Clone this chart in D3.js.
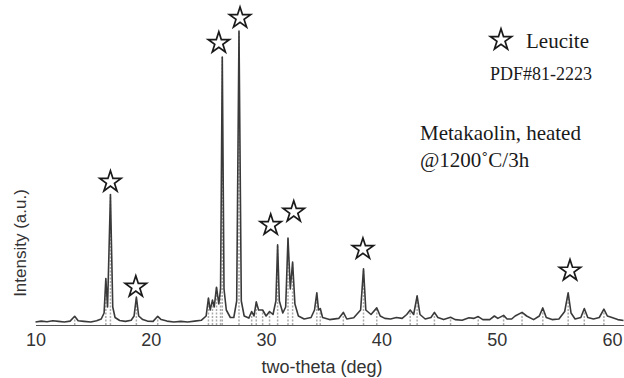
<!DOCTYPE html>
<html>
<head>
<meta charset="utf-8">
<script src="https://cdn.jsdelivr.net/npm/d3@7"></script>
<style>
  body { margin: 0; background: #fff; }
  #svg-container { width: 624px; height: 378px; }
  .tick text { font-family: "Liberation Sans", Arial, sans-serif; font-size: 18px; fill: #333; }
  .unit { font-family: "Liberation Sans", Arial, sans-serif; fill: #333; }
  .note { font-family: "Liberation Serif", "Times New Roman", serif; fill: #1a1a1a; }
</style>
</head>
<body>
<div id="svg-container"></div>
<script>
////////////////////////////////////////////////////////////////////
////////////////////////////  Data  ////////////////////////////////
// XRD pattern (2-theta in deg, intensity in a.u.)
const twoTheta = [
  10.0, 10.5, 11.0, 11.5, 12.0, 12.5, 13.0, 13.4, 13.7, 14.2, 14.8, 15.3, 15.7, 15.95,
  16.1, 16.25, 16.5, 16.7, 16.9, 17.3, 17.8, 18.3, 18.55, 18.75, 18.95, 19.3, 19.7,
  20.2, 20.6, 20.9, 21.4, 22.0, 22.6, 23.2, 23.8, 24.4, 24.8, 25.0, 25.15, 25.35, 25.5,
  25.7, 25.9, 26.05, 26.2, 26.35, 26.55, 26.9, 27.2, 27.45, 27.65, 27.85, 28.1, 28.5,
  28.75, 28.95, 29.15, 29.35, 29.7, 30.0, 30.3, 30.6, 30.85, 31.0, 31.15, 31.45, 31.7,
  31.9, 32.1, 32.3, 32.5, 32.8, 33.3, 33.9, 34.2, 34.4, 34.55, 34.7, 34.9, 35.5, 36.3,
  36.7, 37.0, 37.6, 38.2, 38.45, 38.65, 39.1, 39.6, 39.9, 40.3, 40.8, 41.3, 41.8, 42.2,
  42.5, 42.8, 43.1, 43.35, 43.8, 44.3, 44.6, 44.9, 45.4, 46.0, 46.4, 47.0, 47.6, 48.0,
  48.4, 48.8, 49.4, 49.8, 50.1, 50.6, 50.9, 51.3, 51.6, 52.2, 52.6, 53.2, 53.7, 54.0,
  54.3, 54.8, 55.4, 55.9, 56.2, 56.45, 56.8, 57.3, 57.6, 57.9, 58.4, 58.9, 59.3, 59.6,
  60.0, 60.5, 61.0
];
const intensity = [
  1.0, 1.3, 1.1, 1.4, 1.2, 1.0, 1.3, 2.9, 1.4, 1.2, 1.0, 1.4, 2.0, 4.0,
  15.5, 6.0, 43.5, 6.0, 2.5, 1.5, 1.2, 1.6, 3.0, 9.3, 3.0, 1.8, 1.3,
  1.2, 2.9, 1.8, 1.3, 1.0, 1.2, 1.0, 1.3, 1.6, 3.0, 9.0, 5.0, 8.3, 6.0,
  12.6, 7.0, 12.0, 89.3, 12.0, 5.0, 2.5, 2.5, 8.0, 98.0, 8.0, 3.0, 2.3,
  4.5, 3.0, 7.7, 5.0, 5.0, 3.0, 4.5, 3.5, 8.0, 26.7, 8.0, 4.0, 6.0,
  29.0, 12.0, 21.0, 7.0, 3.0, 2.0, 2.5, 5.0, 10.7, 5.0, 5.5, 2.5, 1.8, 2.2,
  4.2, 2.0, 2.4, 5.0, 18.7, 5.0, 3.5, 5.7, 3.0, 2.2, 2.0, 2.5, 2.2, 3.5,
  5.0, 3.5, 9.7, 3.5, 2.0, 2.5, 4.2, 2.5, 1.8, 2.6, 1.8, 1.6, 2.4, 2.2,
  2.8, 1.8, 1.8, 3.0, 2.2, 3.2, 2.0, 2.0, 3.0, 4.2, 3.0, 1.8, 3.0, 5.7,
  2.5, 1.8, 2.0, 4.5, 10.7, 4.0, 2.0, 2.5, 5.5, 2.5, 2.0, 2.5, 5.3, 3.0,
  2.5, 1.8, 1.5
];

// reference sticks (dashed) under the peaks
const stickTheta = [13.4, 16.1, 16.5, 18.75, 20.6, 25.0, 25.35, 25.7, 26.05, 26.2, 27.65, 28.75,
  29.15, 29.7, 30.3, 31.0, 31.9, 32.3, 34.4, 34.7, 36.7, 38.45, 39.6, 42.5, 43.1, 44.6,
  46.0, 48.4, 50.6, 52.2, 54.0, 56.2, 57.6, 59.3];
const stickHeight = [2.9, 15.5, 43.5, 9.3, 2.9, 9.0, 8.3, 12.6, 12.0, 89.3, 98.0, 4.5,
  7.7, 5.0, 4.5, 26.7, 29.0, 21.0, 10.7, 5.5, 4.2, 18.7, 5.7, 5.0, 9.7, 4.2,
  2.6, 2.8, 3.2, 4.2, 5.7, 10.7, 5.5, 5.3];

// leucite markers
const starTheta = [16.5, 18.7, 25.9, 27.74, 30.4, 32.4, 38.4, 56.36];
const starLevel = [47.7, 12.7, 94.0, 102.3, 33.3, 37.7, 25.3, 18.1];

const xTicks = [10, 20, 30, 40, 50, 60];

////////////////////////////////////////////////////////////////////
////////////////////////////  Init  ///////////////////////////////
const width = 624;
const height = 378;

const svg = d3.select("#svg-container").append("svg")
  .attr("width", width)
  .attr("height", height);

const xScale = d3.scaleLinear().domain([10, 61]).range([35.5, 623.5]);
const yScale = d3.scaleLinear().domain([0, 100]).range([325, 25]);

const data = twoTheta.map((t, i) => ({ t: t, v: intensity[i] }));
const sticks = stickTheta.map((t, i) => ({ t: t, v: stickHeight[i] }));
const stars = starTheta.map((t, i) => ({ t: t, v: starLevel[i] }));

// dashed reference sticks
svg.selectAll(".stick")
  .data(sticks)
  .enter()
  .append("line")
  .attr("class", "stick")
  .attr("x1", (d) => xScale(d.t))
  .attr("x2", (d) => xScale(d.t))
  .attr("y1", yScale(0))
  .attr("y2", (d) => yScale(d.v))
  .attr("stroke", "#aaa")
  .attr("stroke-width", 1.5)
  .attr("stroke-dasharray", "2,1.5");

// x axis
const xAxis = d3.axisBottom(xScale).tickValues(xTicks).tickSize(0).tickPadding(8);
svg.append("g")
  .attr("class", "x-axis")
  .attr("transform", `translate(0,${yScale(0)})`)
  .call(xAxis)
  .call((g) => g.select(".domain").attr("stroke", "#555").attr("stroke-width", 1.2));

// spectrum
const line = d3.line()
  .x((d) => xScale(d.t))
  .y((d) => yScale(d.v));

svg.append("path")
  .datum(data)
  .attr("fill", "none")
  .attr("stroke", "#3a3a3a")
  .attr("stroke-width", 1.6)
  .attr("stroke-linejoin", "round")
  .attr("d", line);

// stars
const star = d3.symbol().type(d3.symbolStar).size(140);

svg.selectAll(".star")
  .data(stars)
  .enter()
  .append("path")
  .attr("class", "star")
  .attr("d", star)
  .attr("transform", (d) => `translate(${xScale(d.t)},${yScale(d.v)})`)
  .attr("fill", "#fff")
  .attr("stroke", "#1a1a1a")
  .attr("stroke-width", 1.7);

// Units
svg.append("text")
  .attr("class", "unit")
  .attr("x", 322)
  .attr("y", 373)
  .attr("text-anchor", "middle")
  .style("font-size", "18px")
  .text("two-theta (deg)");

svg.append("text")
  .attr("class", "unit")
  .attr("transform", "translate(26,243) rotate(-90)")
  .attr("text-anchor", "middle")
  .style("font-size", "17px")
  .text("Intensity (a.u.)");

// Legend / notes
svg.append("path")
  .attr("d", star)
  .attr("transform", "translate(501,40)")
  .attr("fill", "#fff")
  .attr("stroke", "#1a1a1a")
  .attr("stroke-width", 1.7);

svg.append("text").attr("class", "note")
  .attr("x", 526).attr("y", 48)
  .style("font-size", "21px")
  .text("Leucite");

svg.append("text").attr("class", "note")
  .attr("x", 490).attr("y", 80)
  .style("font-size", "18px")
  .text("PDF#81-2223");

svg.append("text").attr("class", "note")
  .attr("x", 420).attr("y", 140)
  .style("font-size", "21px")
  .text("Metakaolin, heated");

svg.append("text").attr("class", "note")
  .attr("x", 420).attr("y", 167)
  .style("font-size", "21px")
  .text("@1200˚C/3h");
</script>
</body>
</html>
